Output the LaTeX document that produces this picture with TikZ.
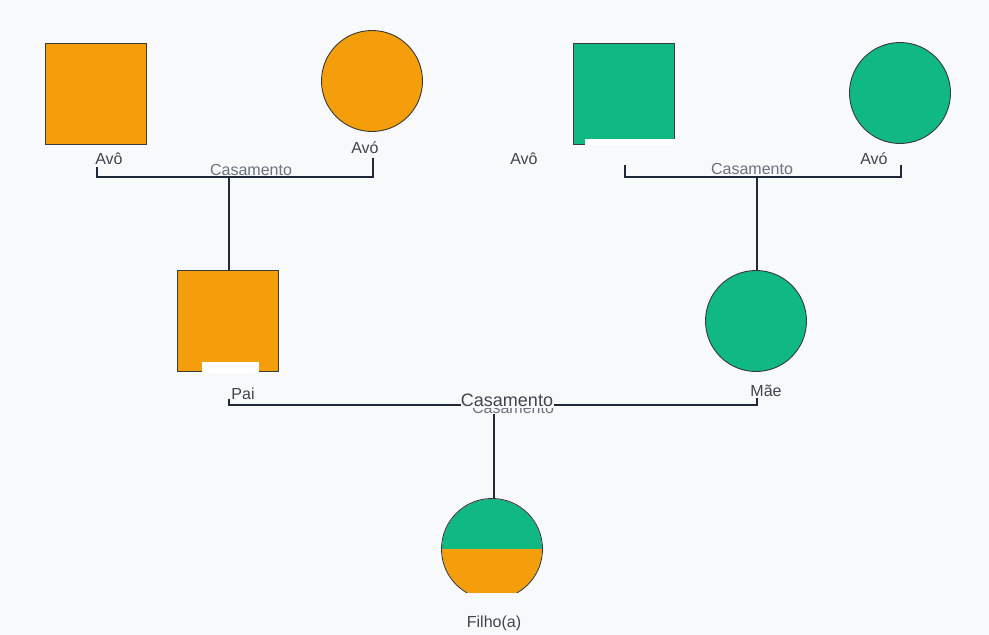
\documentclass[tikz,border=0pt]{standalone}
\usepackage{fontspec}
\setmainfont{Liberation Sans}
\definecolor{laranja}{HTML}{F59E0B}
\definecolor{verde}{HTML}{10B981}
\definecolor{fundo}{HTML}{F7F9FB}
\definecolor{contorno}{HTML}{3A3A3A}
\definecolor{texto}{HTML}{3F4550}
\definecolor{cinza}{HTML}{6B7280}
\definecolor{linha}{HTML}{1F2937}
\begin{document}
\begin{tikzpicture}[x=1pt,y=-1pt,
  homem/.style={draw=contorno,line width=0.9pt,rectangle,minimum width=101pt,minimum height=101pt,inner sep=0pt},
  mulher/.style={draw=contorno,line width=0.9pt,circle,minimum size=101pt,inner sep=0pt},
  rotulo/.style={text=texto,font=\fontsize{16}{19}\selectfont,inner sep=0pt},
  uniao/.style={text=cinza,font=\fontsize{16}{19}\selectfont,fill=fundo,inner sep=0pt},
  casal/.style={draw=linha,line width=1.8pt}]
\fill[fundo] (0,0) rectangle (989,635);
\node[homem,fill=laranja] (avoPat) at (95.5,93.5) {};
\node[mulher,fill=laranja] (avaPat) at (372,81) {};
\node[homem,fill=verde] (avoMat) at (623.5,93.5) {};
\node[mulher,fill=verde] (avaMat) at (900,93) {};
\node[homem,fill=laranja] (pai) at (228,321) {};
\node[mulher,fill=verde] (mae) at (756,321) {};
\fill[white] (585,139) rectangle (675,145);
\fill[white] (202,362) rectangle (259,372.5);
\begin{scope}
\clip (492,549) circle[radius=50pt];
\fill[verde] (440,498) rectangle (545,549);
\fill[laranja] (440,549) rectangle (545,600);
\end{scope}
\node[mulher] (filho) at (492,549) {};
\fill[fundo] (460,593) rectangle (525,601);
\node[rotulo] (lavoPat) at (109,159) {Avô};
\node[rotulo] (lavaPat) at (365,148) {Avó};
\node[rotulo] (lavoMat) at (524,159) {Avô};
\node[rotulo] (lavaMat) at (874,159) {Avó};
\node[rotulo] (lpai) at (243,394) {Pai};
\node[rotulo] (lmae) at (766,391) {Mãe};
\node[rotulo] (lfilho) at (494,623) {Filho(a)};
\coordinate (b1l) at (97,167);
\coordinate (b1r) at (373,158);
\coordinate (m1) at (229,177);
\coordinate (b2l) at (625,165);
\coordinate (b2r) at (901,165);
\coordinate (m2) at (757,177);
\coordinate (b3l) at (229,399);
\coordinate (b3r) at (757,398);
\coordinate (m3) at (494,405);
\coordinate (m3b) at (494,410);
\draw[casal] (b1l) |- (m1) -| (b1r);
\draw[casal] (m1) -- (m1 |- pai.north);
\draw[casal] (b2l) |- (m2) -| (b2r);
\draw[casal] (m2) -- (m2 |- mae.north);
\draw[casal] (b3l) |- (m3) -| (b3r);
\draw[casal] (m3b) -- (m3b |- filho.north);
\node[uniao] (u1) at (251,170) {Casamento};
\node[uniao] (u2) at (752,169) {Casamento};
\node[uniao] (u3b) at (513,408) {Casamento};
\node[uniao,text=texto,inner ysep=1.5pt,font=\fontsize{18}{21}\selectfont] (u3) at (507,400) {Casamento};
\end{tikzpicture}
\end{document}
